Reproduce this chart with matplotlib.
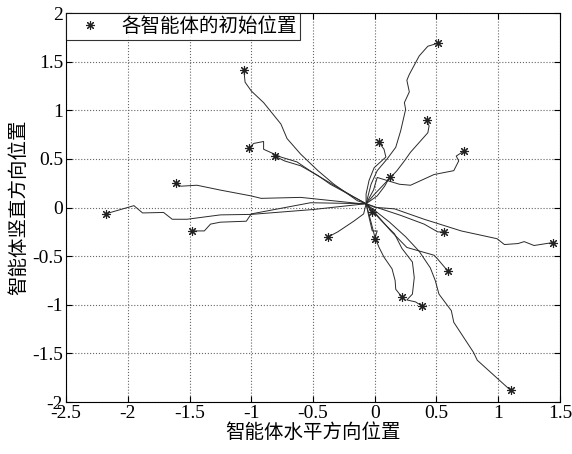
import matplotlib.pyplot as plt
import numpy as np

plt.rcParams['font.family'] = ['Liberation Serif', 'Noto Sans CJK SC']

# trajectories of each agent (first point = initial position)
paths_x = [
    [-2.18, -1.95, -1.88, -1.71, -1.64, -1.52, -1.25, -1.0, -0.5, -0.07],
    [-1.48, -1.38, -1.33, -1.25, -1.04, -1.0, -0.52, -0.07],
    [-1.61, -1.57, -1.44, -1.25, -1.0, -0.92, -0.6, -0.11, -0.07],
    [-1.06, -1.05, -1.0, -0.9, -0.76, -0.71, -0.6, -0.46, -0.33, -0.14, -0.07],
    [-1.02, -0.98, -0.9, -0.9, -0.76, -0.63, -0.49, -0.33, -0.17, -0.07],
    [-0.81, -0.73, -0.6, -0.46, -0.36, -0.07],
    [-0.375, -0.3, -0.17, -0.09, -0.07],
    [0.035, 0.075, 0.09, -0.005, -0.046, -0.07, -0.07],
    [0.51, 0.43, 0.36, 0.28, 0.26, 0.28, 0.24, 0.25, 0.21, 0.17, 0.1, 0.02, -0.03, -0.07],
    [0.42, 0.44, 0.43, 0.36, 0.29, 0.24, 0.18, 0.075, 0.0, -0.07],
    [0.72, 0.66, 0.68, 0.64, 0.48, 0.29, 0.2, 0.02, -0.01, -0.07],
    [0.12, 0.08, 0.02, -0.07],
    [1.44, 1.29, 1.21, 1.16, 1.05, 0.99, 0.7, 0.4, 0.16, 0.0, -0.07],
    [0.56, 0.51, 0.4, 0.21, 0.02, -0.07],
    [0.59, 0.51, 0.48, 0.26, 0.13, 0.0, -0.07],
    [0.22, 0.17, 0.165, 0.14, 0.075, 0.035, 0.0, -0.03, -0.07],
    [0.38, 0.33, 0.26, 0.305, 0.32, 0.305, 0.22, 0.16, 0.05, -0.07],
    [1.1, 0.83, 0.8, 0.64, 0.62, 0.52, 0.49, 0.45, 0.36, 0.25, 0.12, -0.07],
    [0.0, 0.02, -0.02, -0.046, -0.07],
    [-0.02, -0.05, -0.07],
]
paths_y = [
    [-0.065, 0.02, -0.055, -0.05, -0.12, -0.12, -0.075, -0.07, -0.02, 0.04],
    [-0.24, -0.24, -0.17, -0.15, -0.14, -0.065, 0.05, 0.04],
    [0.25, 0.22, 0.23, 0.18, 0.12, 0.095, 0.105, 0.04, 0.04],
    [1.415, 1.29, 1.2, 1.08, 0.86, 0.71, 0.55, 0.38, 0.24, 0.07, 0.04],
    [0.61, 0.66, 0.68, 0.6, 0.52, 0.47, 0.35, 0.23, 0.11, 0.04],
    [0.53, 0.48, 0.43, 0.33, 0.24, 0.04],
    [-0.3, -0.25, -0.14, -0.065, 0.04],
    [0.67, 0.6, 0.52, 0.41, 0.28, 0.14, 0.04],
    [1.69, 1.66, 1.56, 1.37, 1.31, 1.19, 1.08, 1.01, 0.79, 0.62, 0.5, 0.38, 0.24, 0.04],
    [0.9, 0.84, 0.77, 0.67, 0.57, 0.48, 0.38, 0.24, 0.14, 0.04],
    [0.58, 0.53, 0.48, 0.38, 0.34, 0.23, 0.24, 0.31, 0.18, 0.04],
    [0.31, 0.22, 0.12, 0.04],
    [-0.36, -0.39, -0.35, -0.37, -0.38, -0.32, -0.24, -0.12, -0.013, 0.003, 0.04],
    [-0.25, -0.25, -0.17, -0.08, 0.0, 0.04],
    [-0.65, -0.53, -0.49, -0.41, -0.24, -0.05, 0.04],
    [-0.92, -0.84, -0.75, -0.63, -0.51, -0.41, -0.3, -0.15, 0.04],
    [-1.01, -0.97, -0.95, -0.89, -0.72, -0.56, -0.42, -0.27, -0.13, 0.04],
    [-1.88, -1.57, -1.49, -1.18, -1.06, -0.89, -0.75, -0.62, -0.45, -0.3, -0.15, 0.04],
    [-0.32, -0.24, -0.24, -0.1, 0.04],
    [-0.05, 0.0, 0.04],
]

legend_label = "各智能体的初始位置"
x_label = "智能体水平方向位置"
y_label = "智能体竖直方向位置"

fig = plt.figure(figsize=(5.72, 4.54), dpi=100)
ax = fig.add_axes([0.1154, 0.1145, 0.8636, 0.8565])

for px, py in zip(paths_x, paths_y):
    ax.plot(px, py, color='#2a2a2a', lw=0.7)

start_x = [p[0] for p in paths_x]
start_y = [p[0] for p in paths_y]
ax.plot(start_x, start_y, ls='none', marker=(8, 2, 0), ms=6.5, mew=0.8,
        color='#222222', label=legend_label)

ax.set_xlim(-2.5, 1.5)
ax.set_ylim(-2, 2)
ax.set_xticks(np.arange(-2.5, 1.51, 0.5))
ax.set_yticks(np.arange(-2, 2.01, 0.5))
ax.set_xticklabels(['-2.5', '-2', '-1.5', '-1', '-0.5', '0', '0.5', '1', '1.5'])
ax.set_yticklabels(['-2', '-1.5', '-1', '-0.5', '0', '0.5', '1', '1.5', '2'])
ax.tick_params(direction='in', top=True, right=True, labelsize=14, length=4, pad=2)
ax.grid(True, ls=':', color='#666666', lw=0.8)
for s in ax.spines.values():
    s.set_linewidth(0.8)

ax.set_xlabel(x_label, fontsize=14, family=['Noto Sans CJK SC'], labelpad=0)
ax.set_ylabel(y_label, fontsize=14, family=['Noto Sans CJK SC'], labelpad=2)

leg = ax.legend(loc='upper left', prop={'family': ['Noto Sans CJK SC'], 'size': 14},
                borderaxespad=0, fancybox=False, handletextpad=0.5, handlelength=2.2,
                borderpad=0.15)
leg.get_frame().set_edgecolor('black')
leg.get_frame().set_linewidth(0.8)

fig.savefig('out.png', dpi=100)
